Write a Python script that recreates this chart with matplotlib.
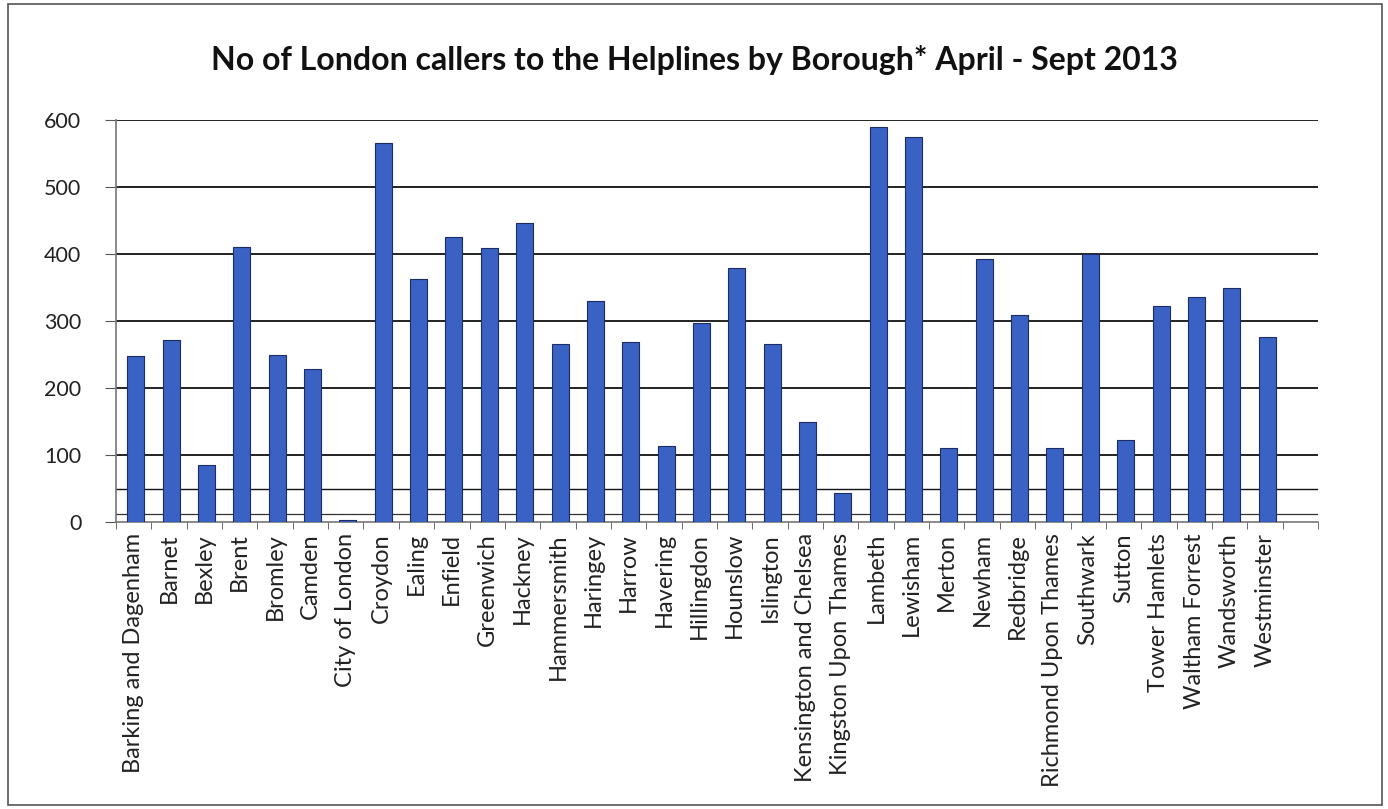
import matplotlib
matplotlib.use("Agg")
import matplotlib.pyplot as plt
from matplotlib.patches import Rectangle
import numpy as np

boroughs = ["Barking and Dagenham", "Barnet", "Bexley", "Brent", "Bromley", "Camden",
            "City of London", "Croydon", "Ealing", "Enfield", "Greenwich", "Hackney",
            "Hammersmith", "Haringey", "Harrow", "Havering", "Hillingdon", "Hounslow",
            "Islington", "Kensington and Chelsea", "Kingston Upon Thames", "Lambeth",
            "Lewisham", "Merton", "Newham", "Redbridge", "Richmond Upon Thames",
            "Southwark", "Sutton", "Tower Hamlets", "Waltham Forrest", "Wandsworth",
            "Westminster"]
callers = [248, 272, 85, 410, 249, 228, 3, 565, 363, 426, 409, 446, 266, 330, 269,
           114, 297, 379, 266, 150, 43, 589, 575, 110, 393, 309, 110, 400, 123, 323,
           336, 349, 276]
yticks = [0, 100, 200, 300, 400, 500, 600]
title = "No of London callers to the Helplines by Borough* April - Sept 2013"

plt.rcParams['font.family'] = ['Lato', 'DejaVu Sans']

W, H = 1388, 809
fig = plt.figure(figsize=(W / 100, H / 100), dpi=100)
fig.patch.set_facecolor('white')

# outer border
fig.add_artist(Rectangle((8 / W, 4 / H), (1382 - 8) / W, (805 - 4) / H,
                         transform=fig.transFigure, fill=False,
                         edgecolor='#555555', linewidth=1.2))

left, right = 116, 1318
top, bottom = 120, 522
ax = fig.add_axes([left / W, 1 - bottom / H, (right - left) / W, (bottom - top) / H])

x = np.arange(len(boroughs))
ax.set_xlim(-0.5, len(boroughs) + 0.5)
ax.set_ylim(0, 600)

for yv in yticks[1:]:
    ax.axhline(yv, color='#111111', linewidth=1.3, zorder=1)
ax.axhline(49, color='#111111', linewidth=1.0, zorder=1)
ax.axhline(12, color='#333333', linewidth=0.9, zorder=1)

# side face for 3D look
ax.bar(x + 0.22, callers, width=0.2, color='#24367a', zorder=2)
ax.bar(x + 0.06, callers, width=0.48, color='#3a62c4', edgecolor='#1e2c66',
       linewidth=0.8, zorder=3)

ax.set_yticks(yticks)
ax.set_yticklabels([str(v) for v in yticks], fontsize=15.5, color='#222222')
ax.set_xticks(x)
ax.set_xticklabels(boroughs, rotation=90, fontsize=17, color='#222222')
ax.set_xticks(np.arange(-0.5, len(boroughs) + 1), minor=True)
ax.tick_params(axis='x', which='major', length=0, pad=8)
ax.tick_params(axis='x', which='minor', length=5, color='#555555', direction='out')
ax.tick_params(axis='y', length=8, color='#555555', pad=17)

for s in ['top', 'right']:
    ax.spines[s].set_visible(False)
for s in ['left', 'bottom']:
    ax.spines[s].set_color('#777777')
    ax.spines[s].set_linewidth(1.2)

fig.text(0.5, 1 - 60 / H, title, ha='center', va='center', fontsize=23,
         fontweight='bold', color='#111111')

fig.savefig('out.png', dpi=100)
